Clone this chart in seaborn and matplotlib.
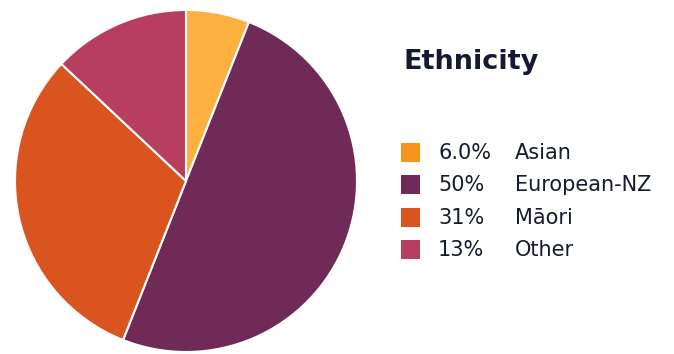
import matplotlib
matplotlib.use("Agg")
import matplotlib.pyplot as plt
from matplotlib.patches import Rectangle
import seaborn as sns

# Ethnicity breakdown (percent)
categories = ["Asian", "European-NZ", "Māori", "Other"]
shares = [6.0, 50.0, 31.0, 13.0]
slice_colors = ["#FBB040", "#6F2A57", "#D9541E", "#B83E60"]
legend_colors = ["#F7941D", "#6F2A57", "#D9541E", "#B83E60"]
title_text = "Ethnicity"

sns.set_theme(style="white")
plt.rcParams["font.family"] = ["DejaVu Sans"]
ink = "#141A30"

W, H = 674, 354
fig = plt.figure(figsize=(W / 100, H / 100), dpi=100)
fig.patch.set_facecolor("white")

# pie axes: centre (186, 181) px, radius 171 px
cx, cy, r = 186, 181, 171
ax = fig.add_axes([(cx - r) / W, (H - cy - r) / H, 2 * r / W, 2 * r / H])
ax.pie(shares, colors=slice_colors, startangle=90, counterclock=False,
       radius=1.0, wedgeprops=dict(edgecolor="white", linewidth=1.5))
ax.set_xlim(-1.0, 1.0)
ax.set_ylim(-1.0, 1.0)
ax.set_aspect("equal")
ax.axis("off")

def fx(px):
    return px / W

def fy(py):
    return (H - py) / H

fig.text(fx(403), fy(69), title_text, fontsize=19.5, fontweight="bold",
         color=ink, ha="left", va="baseline")

def fmt(v):
    return f"{v:.1f}%" if v < 10 else f"{v:.0f}%"

row0, step, sq = 152.5, 32.3, 19
for i, (name, v, c) in enumerate(zip(categories, shares, legend_colors)):
    yc = row0 + i * step
    fig.patches.append(Rectangle((fx(401), fy(yc + sq / 2)), sq / W, sq / H,
                                 transform=fig.transFigure, facecolor=c,
                                 edgecolor="none"))
    fig.text(fx(438), fy(yc - 1.5), fmt(v), fontsize=15, color=ink,
             ha="left", va="center_baseline")
    fig.text(fx(515), fy(yc - 1.5), name, fontsize=15, color=ink,
             ha="left", va="center_baseline")

fig.savefig("out.png", dpi=100, facecolor="white")
